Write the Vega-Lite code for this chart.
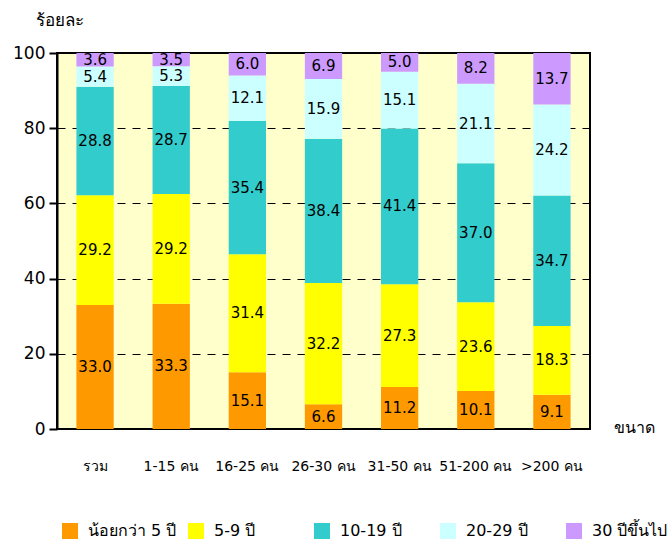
{
  "$schema": "https://vega.github.io/schema/vega-lite/v6.json",
  "autosize": "none",
  "padding": {"left": 57, "top": 53, "right": 80, "bottom": 114},
  "width": 533,
  "height": 376,
  "background": "white",
  "config": {
    "font": "DejaVu Sans",
    "view": {"fill": "#FFFFCC", "stroke": "black", "strokeWidth": 2}
  },
  "data": {
    "values": [
      {"size": "รวม", "age": "น้อยกว่า 5 ปี", "ord": 1, "value": 33.0},
      {"size": "รวม", "age": "5-9 ปี", "ord": 2, "value": 29.2},
      {"size": "รวม", "age": "10-19 ปี", "ord": 3, "value": 28.8},
      {"size": "รวม", "age": "20-29 ปี", "ord": 4, "value": 5.4},
      {"size": "รวม", "age": "30 ปีขึ้นไป", "ord": 5, "value": 3.6},
      {"size": "1-15 คน", "age": "น้อยกว่า 5 ปี", "ord": 1, "value": 33.3},
      {"size": "1-15 คน", "age": "5-9 ปี", "ord": 2, "value": 29.2},
      {"size": "1-15 คน", "age": "10-19 ปี", "ord": 3, "value": 28.7},
      {"size": "1-15 คน", "age": "20-29 ปี", "ord": 4, "value": 5.3},
      {"size": "1-15 คน", "age": "30 ปีขึ้นไป", "ord": 5, "value": 3.5},
      {"size": "16-25 คน", "age": "น้อยกว่า 5 ปี", "ord": 1, "value": 15.1},
      {"size": "16-25 คน", "age": "5-9 ปี", "ord": 2, "value": 31.4},
      {"size": "16-25 คน", "age": "10-19 ปี", "ord": 3, "value": 35.4},
      {"size": "16-25 คน", "age": "20-29 ปี", "ord": 4, "value": 12.1},
      {"size": "16-25 คน", "age": "30 ปีขึ้นไป", "ord": 5, "value": 6.0},
      {"size": "26-30 คน", "age": "น้อยกว่า 5 ปี", "ord": 1, "value": 6.6},
      {"size": "26-30 คน", "age": "5-9 ปี", "ord": 2, "value": 32.2},
      {"size": "26-30 คน", "age": "10-19 ปี", "ord": 3, "value": 38.4},
      {"size": "26-30 คน", "age": "20-29 ปี", "ord": 4, "value": 15.9},
      {"size": "26-30 คน", "age": "30 ปีขึ้นไป", "ord": 5, "value": 6.9},
      {"size": "31-50 คน", "age": "น้อยกว่า 5 ปี", "ord": 1, "value": 11.2},
      {"size": "31-50 คน", "age": "5-9 ปี", "ord": 2, "value": 27.3},
      {"size": "31-50 คน", "age": "10-19 ปี", "ord": 3, "value": 41.4},
      {"size": "31-50 คน", "age": "20-29 ปี", "ord": 4, "value": 15.1},
      {"size": "31-50 คน", "age": "30 ปีขึ้นไป", "ord": 5, "value": 5.0},
      {"size": "51-200 คน", "age": "น้อยกว่า 5 ปี", "ord": 1, "value": 10.1},
      {"size": "51-200 คน", "age": "5-9 ปี", "ord": 2, "value": 23.6},
      {"size": "51-200 คน", "age": "10-19 ปี", "ord": 3, "value": 37.0},
      {"size": "51-200 คน", "age": "20-29 ปี", "ord": 4, "value": 21.1},
      {"size": "51-200 คน", "age": "30 ปีขึ้นไป", "ord": 5, "value": 8.2},
      {"size": ">200 คน", "age": "น้อยกว่า 5 ปี", "ord": 1, "value": 9.1},
      {"size": ">200 คน", "age": "5-9 ปี", "ord": 2, "value": 18.3},
      {"size": ">200 คน", "age": "10-19 ปี", "ord": 3, "value": 34.7},
      {"size": ">200 คน", "age": "20-29 ปี", "ord": 4, "value": 24.2},
      {"size": ">200 คน", "age": "30 ปีขึ้นไป", "ord": 5, "value": 13.7}
    ]
  },
  "transform": [
    {"stack": "value", "groupby": ["size"], "sort": [{"field": "ord", "order": "ascending"}], "as": ["y0", "y1"]},
    {"calculate": "(datum.y0 + datum.y1) / 2", "as": "ymid"}
  ],
  "encoding": {
    "x": {
      "field": "size",
      "type": "nominal",
      "sort": ["รวม", "1-15 คน", "16-25 คน", "26-30 คน", "31-50 คน", "51-200 คน", ">200 คน"],
      "scale": {"paddingInner": 0.51, "paddingOuter": 0.255},
      "axis": {
        "title": "ขนาด",
        "titleFontSize": 16,
        "titleFontWeight": "normal",
        "titleColor": "black",
        "titleAnchor": "end",
        "titleAlign": "left",
        "titleBaseline": "middle",
        "titleX": 556,
        "titleY": -2,
        "labelAngle": 0,
        "labelFontSize": 14,
        "labelColor": "black",
        "labelPadding": 30,
        "ticks": false,
        "domain": false
      }
    }
  },
  "layer": [
    {
      "mark": {"type": "bar"},
      "encoding": {
        "y": {
          "field": "y0",
          "type": "quantitative",
          "scale": {"domain": [0, 100]},
          "axis": {
            "title": "ร้อยละ",
            "titleFontSize": 17,
            "titleFontWeight": "normal",
            "titleColor": "black",
            "titleAngle": 0,
            "titleAlign": "left",
            "titleBaseline": "middle",
            "titleX": -22,
            "titleY": -33,
            "values": [0, 20, 40, 60, 80, 100],
            "labelFontSize": 17,
            "labelColor": "black",
            "labelPadding": 4,
            "tickColor": "black",
            "tickWidth": 2,
            "tickSize": 8,
            "domainColor": "black",
            "domainWidth": 2,
            "grid": true,
            "gridColor": "black",
            "gridDash": [8, 7],
            "gridWidth": 1
          }
        },
        "y2": {"field": "y1"},
        "color": {
          "field": "age",
          "type": "nominal",
          "scale": {
            "domain": ["น้อยกว่า 5 ปี", "5-9 ปี", "10-19 ปี", "20-29 ปี", "30 ปีขึ้นไป"],
            "range": ["#FF9900", "#FFFF00", "#33CCCC", "#CCFFFF", "#CC99FF"]
          },
          "legend": {
            "title": null,
            "orient": "none",
            "direction": "horizontal",
            "columns": 5,
            "gridAlign": "all",
            "legendX": 5,
            "legendY": 470,
            "symbolType": "square",
            "symbolSize": 256,
            "symbolStrokeWidth": 0,
            "labelFontSize": 16,
            "labelColor": "black",
            "labelOffset": 10,
            "columnPadding": 11
          }
        }
      }
    },
    {
      "mark": {"type": "text", "fontSize": 15, "color": "black", "baseline": "middle"},
      "encoding": {
        "y": {"field": "ymid", "type": "quantitative"},
        "text": {"field": "value", "type": "quantitative", "format": ".1f"}
      }
    }
  ]
}
